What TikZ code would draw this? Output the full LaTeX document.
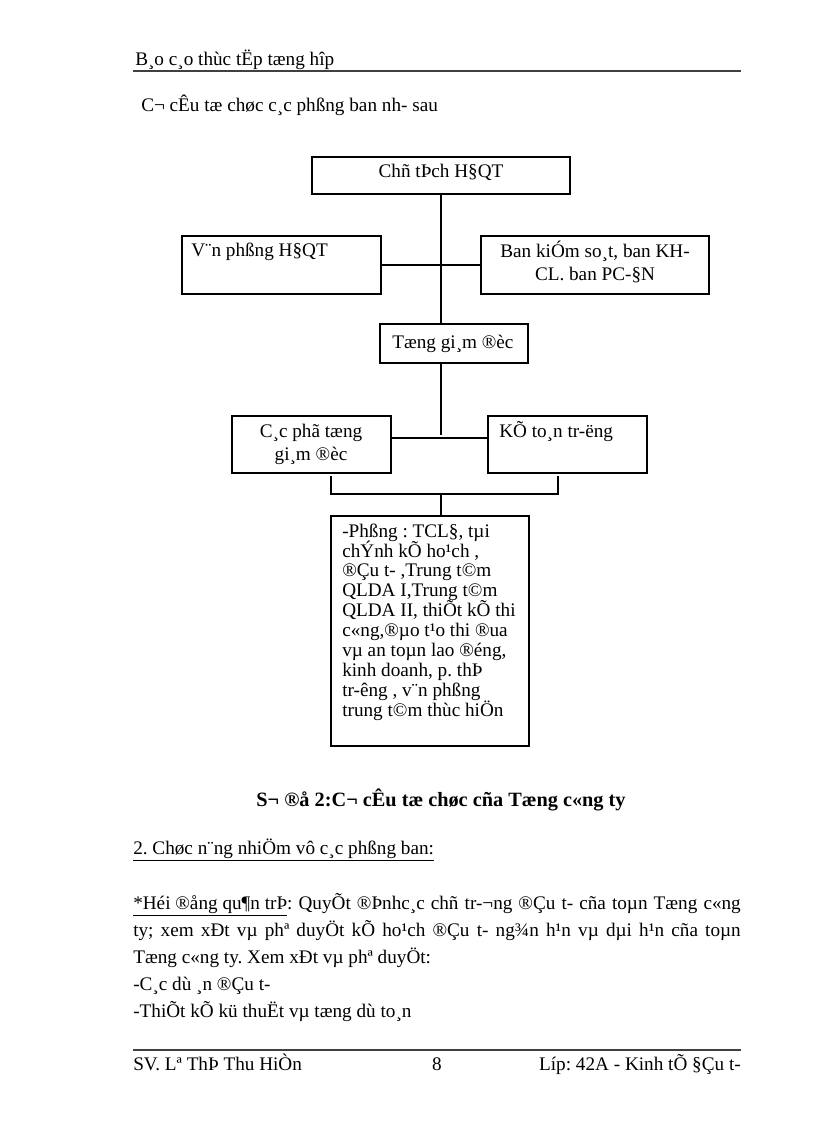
\documentclass[tikz,border=0pt]{standalone}
\usepackage{fontspec}
\setmainfont{Liberation Serif}
\usetikzlibrary{positioning,fit}
\frenchspacing
\newcommand{\fixlines}{\lineskiplimit=-20pt\relax}
\tikzset{
  box/.style={draw, line width=1.4pt, inner sep=0pt},
  txt/.style={font=\fontsize{14}{16.8}\selectfont\fixlines, inner sep=0pt},
  link/.style={line width=0.8pt},
  rule/.style={line width=1pt, color=black!75},
}

\begin{document}
\begin{tikzpicture}[x=0.7292pt, y=-0.7292pt]
  \useasboundingbox (0,0) rectangle (816,1123);

  % running head
  \node[txt, anchor=base west] (head) at (135,66) {B¸o c¸o thùc tËp tæng hîp};
  \draw[rule] (133,71) -- (741,71);
  \node[txt, anchor=base west] (intro) at (141,112) {C¬ cÊu tæ chøc c¸c phßng ban nh- sau};

  % chart boxes
  \node[box, fit={(312,157) (570,194)}] (chair) {};
  \node[txt, anchor=base] (chairT) at (441,178) {Chñ tÞch H§QT};
  \node[box, fit={(182,236) (381,294)}] (office) {};
  \node[txt, anchor=base west] (officeT) at (191,257) {V¨n phßng H§QT};
  \node[box, fit={(481,236) (709,294)}] (control) {};
  \node[txt, anchor=north, align=center] (controlT) at (595,241)
        {\strut Ban kiÓm so¸t, ban KH-\\CL. ban PC-§N};
  \node[box, fit={(380,324) (528,363)}] (ceo) {};
  \node[txt, anchor=base west] (ceoT) at (392,348) {Tæng gi¸m ®èc};
  \node[box, fit={(232,416) (391,473)}] (deputy) {};
  \node[txt, anchor=north, align=center] (deputyT) at (311,421)
        {\strut C¸c phã tæng\\gi¸m ®èc};
  \node[box, fit={(488,416) (647,473)}] (acct) {};
  \node[txt, anchor=base west] (acctT) at (499,437) {KÕ to¸n tr-ëng};
  \node[box, fit={(331,516) (529,746)}] (depts) {};
  \node[txt, font=\fontsize{14}{14.5}\selectfont\fixlines, anchor=north west, align=left] (deptsT) at (342,523)
        {\strut -Phßng : TCL§, tµi\\chÝnh kÕ ho¹ch ,\\®Çu t- ,Trung t©m\\QLDA I,Trung t©m\\QLDA II, thiÕt kÕ thi\\c«ng,®µo t¹o thi ®ua\\vµ an toµn lao ®éng,\\kinh doanh, p. thÞ\\tr-êng , v¨n phßng\\trung t©m thùc hiÖn};

  % connectors
  \coordinate (mid1) at (441,265);
  \coordinate (mid2) at (441,438);
  \coordinate (brL) at (331,476);
  \coordinate (brB) at (441,494);
  \coordinate (brR) at (558,476);
  \draw[link] (chair.south) -- (chair.south |- ceo.north);
  \draw[link] (office.east |- mid1) -- (control.west |- mid1);
  \draw[link] (mid2 |- ceo.south) -- ([yshift=2pt]mid2);
  \draw[link] (deputy.east |- mid2) -- (acct.west |- mid2);
  \draw[link] (brL) |- (brB) -| (brR);
  \draw[link] (brB) -- (brB |- depts.north);

  % caption and text
  \node[txt, font=\fontsize{14.8}{17}\selectfont\bfseries, anchor=base] (cap) at (441,806) {S¬ ®å 2:C¬ cÊu tæ chøc cña Tæng c«ng ty};
  \node[txt, anchor=base west] (sec) at (133,854) {\underline{2. Chøc n¨ng nhiÖm vô c¸c phßng ban:}};
  \node[txt, font=\fontsize{14}{19.8}\selectfont\fixlines, anchor=north west, text width=443pt, align=justify] (para) at (133,890)
        {\strut\underline{*Héi ®ång qu¶n trÞ}: QuyÕt ®Þnhc¸c chñ tr-¬ng ®Çu t- cña toµn Tæng c«ng\linebreak
         ty; xem xÐt vµ phª duyÖt kÕ ho¹ch ®Çu t- ng¾n h¹n vµ dµi h¹n cña toµn\linebreak
         Tæng c«ng ty. Xem xÐt vµ phª duyÖt:\\
         -C¸c dù ¸n ®Çu t-\\
         -ThiÕt kÕ kü thuËt vµ tæng dù to¸n};

  % running foot
  \draw[rule] (133,1050) -- (741,1050);
  \node[txt, anchor=base west] (who) at (133,1070) {SV. Lª ThÞ Thu HiÒn};
  \node[txt, anchor=base] (page) at (437,1070) {8};
  \node[txt, anchor=base east] (cls) at (741,1070) {Líp: 42A - Kinh tÕ §Çu t-};
\end{tikzpicture}
\end{document}
